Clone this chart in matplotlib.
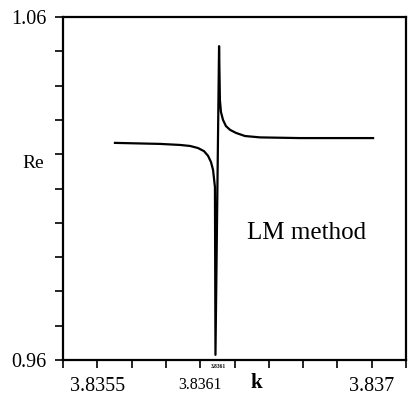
import matplotlib
matplotlib.use("Agg")
import matplotlib.pyplot as plt
import numpy as np

# Data
k_vals = [3.835603, 3.835866, 3.835982, 3.836041, 3.836087, 3.836122,
          3.836146, 3.836163, 3.836175, 3.836180, 3.836186, 3.836189,
          3.836210, 3.836215, 3.836221, 3.836233, 3.836250, 3.836274,
          3.836309, 3.836361, 3.836449, 3.836682, 3.837108]
re_vals = [1.0233, 1.0230, 1.0227, 1.0224, 1.0218, 1.0209,
           1.0195, 1.0177, 1.0154, 1.0131, 1.0104, 0.9615,
           1.0515, 1.0358, 1.0323, 1.0300, 1.0282, 1.0271,
           1.0262, 1.0253, 1.0249, 1.0247, 1.0247]

xtick_vals = [3.8355, 3.8361, 3.8371]
xtick_labels = ["3.8355", "3.8361", "3.837"]
ytick_vals = [0.96, 1.06]
ytick_labels = ["0.96", "1.06"]

serif = ["Liberation Serif", "DejaVu Serif"]
plt.rcParams['font.family'] = serif

fig = plt.figure(figsize=(4.08, 3.99), dpi=100)
W, H = 408, 399
ax = fig.add_axes([63 / W, 1 - 360 / H, (406 - 63) / W, (360 - 17) / H])

ax.plot(k_vals, re_vals, color="black", lw=1.6, solid_joinstyle="round")

ax.set_xlim(3.8353, 3.8373)
ax.set_ylim(0.96, 1.06)

for s in ax.spines.values():
    s.set_linewidth(1.6)

ax.set_xticks(np.arange(3.8353, 3.83731, 0.0002), minor=True)
ax.set_yticks(np.arange(0.96, 1.0601, 0.01), minor=True)
ax.set_xticks(xtick_vals)
ax.set_xticklabels(xtick_labels)
ax.set_yticks(ytick_vals)
ax.set_yticklabels(ytick_labels)
ax.tick_params(axis="both", which="both", direction="out", length=6, width=1.2)
ax.tick_params(axis="x", which="major", pad=6)
ax.tick_params(axis="y", which="major", pad=6, labelsize=14.5)
sizes = [14.5, 11.5, 14.5]
for lab, s in zip(ax.get_xticklabels(), sizes):
    lab.set_fontsize(s)

fig.text(256 / W, 1 - 383 / H, "k", fontsize=15, fontweight="bold",
         ha="center", va="center")
fig.text(33 / W, 1 - 164 / H, "Re", fontsize=14, ha="center", va="center")
fig.text(218 / W, 1 - 367 / H, "3.8361", fontsize=4, fontweight="bold",
         ha="center", va="center")
ax.text(0.71, 0.37, "LM method", transform=ax.transAxes, fontsize=18,
        ha="center", va="center")

fig.savefig("out.png", dpi=100)
